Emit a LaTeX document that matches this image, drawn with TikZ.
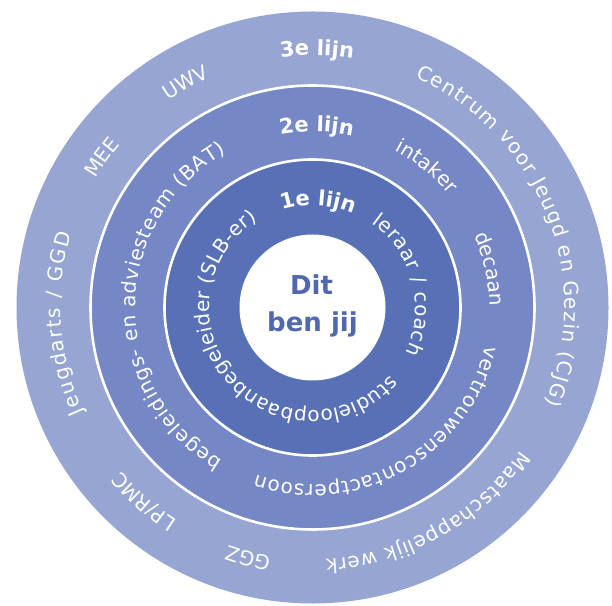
\documentclass[tikz,border=0pt]{standalone}
\usepackage{fontspec}
\setmainfont{DejaVu Sans}
\usetikzlibrary{decorations.text}
\definecolor{ringthree}{RGB}{150,165,210}
\definecolor{ringtwo}{RGB}{117,135,197}
\definecolor{ringone}{RGB}{88,113,182}
\definecolor{youtext}{RGB}{80,104,176}
\newcommand{\ringfont}{\fontsize{20}{24}\selectfont}
\newcommand{\lijnfont}{\fontsize{21}{25}\selectfont\bfseries}
\tikzset{
  arcfit/.style={decorate, decoration={text along path, text align={fit to path}, text={|\ringfont\color{white}|#1}}},
  arccenter/.style={decorate, decoration={text along path, text align=center, text={|\ringfont\color{white}|#1}}},
  lijnlabel/.style={decorate, decoration={text along path, text align=center, text={|\lijnfont\color{white}|#1}}},
  disc/.style={circle, inner sep=0pt, outer sep=0pt},
  sepline/.style={draw=white, line width=2.6pt}
}
\begin{document}
\begin{tikzpicture}[x=1pt, y=1pt]
\useasboundingbox (0,0) rectangle (612,605);
\begin{scope}[shift={(312.5,297.5)}]
  \node[disc, fill=ringthree, minimum size=592pt] (lijn3) at (0,0) {};
  \node[disc, fill=ringtwo, sepline, minimum size=444pt] (lijn2) at (0,0) {};
  \node[disc, fill=ringone, sepline, minimum size=296pt] (lijn1) at (0,0) {};
  \node[disc, fill=white, minimum size=146pt] (jij) at (0,0) {};
  \node[anchor=base, text=youtext, font=\fontsize{26}{30}\selectfont\bfseries] (dit) at (-1,12.5) {Dit};
  \node[anchor=base, text=youtext, font=\fontsize{26}{30}\selectfont\bfseries] (benjij) at (0,-24.5) {ben jij};
  % 3e lijn
  \path[lijnlabel={3e lijn}] (129:252) arc[start angle=129, end angle=49, radius=252];
  \path[arcfit={Centrum voor Jeugd en Gezin (CJG)}] (66:252) arc[start angle=66, end angle=-22.5, radius=252];
  \path[arcfit={Maatschappelijk werk}] (-34.5:252) arc[start angle=-34.5, end angle=-87, radius=252];
  \path[arccenter={GGZ}] (-84.5:252) arc[start angle=-84.5, end angle=-124.5, radius=252];
  \path[arccenter={LP/RMC}] (-111:252) arc[start angle=-111, end angle=-151, radius=252];
  \path[arcfit={Jeugdarts / GGD}] (204.5:252) arc[start angle=204.5, end angle=163, radius=252];
  \path[arccenter={MEE}] (164.5:252) arc[start angle=164.5, end angle=124.5, radius=252];
  \path[arccenter={UWV}] (139.5:252) arc[start angle=139.5, end angle=99.5, radius=252];
  % 2e lijn
  \path[lijnlabel={2e lijn}] (128.7:176) arc[start angle=128.7, end angle=48.7, radius=176];
  \path[arccenter={intaker}] (81:177) arc[start angle=81, end angle=21, radius=177];
  \path[arccenter={decaan}] (42.3:177) arc[start angle=42.3, end angle=-17.7, radius=177];
  \path[arcfit={vertrouwenscontactpersoon}] (-12.4:177) arc[start angle=-12.4, end angle=-108.6, radius=177];
  \path[arcfit={begeleidings- en adviesteam (BAT)}] (239.5:177) arc[start angle=239.5, end angle=119, radius=177];
  % 1e lijn
  \path[lijnlabel={1e lijn}] (137:102) arc[start angle=137, end angle=37, radius=102];
  \path[arcfit={leraar / coach}] (55:103) arc[start angle=55, end angle=-26, radius=103];
  \path[arcfit={studieloopbaanbegeleider (SLB-er)}] (-41:103) arc[start angle=-41, end angle=-238, radius=103];
\end{scope}
\end{tikzpicture}
\end{document}
